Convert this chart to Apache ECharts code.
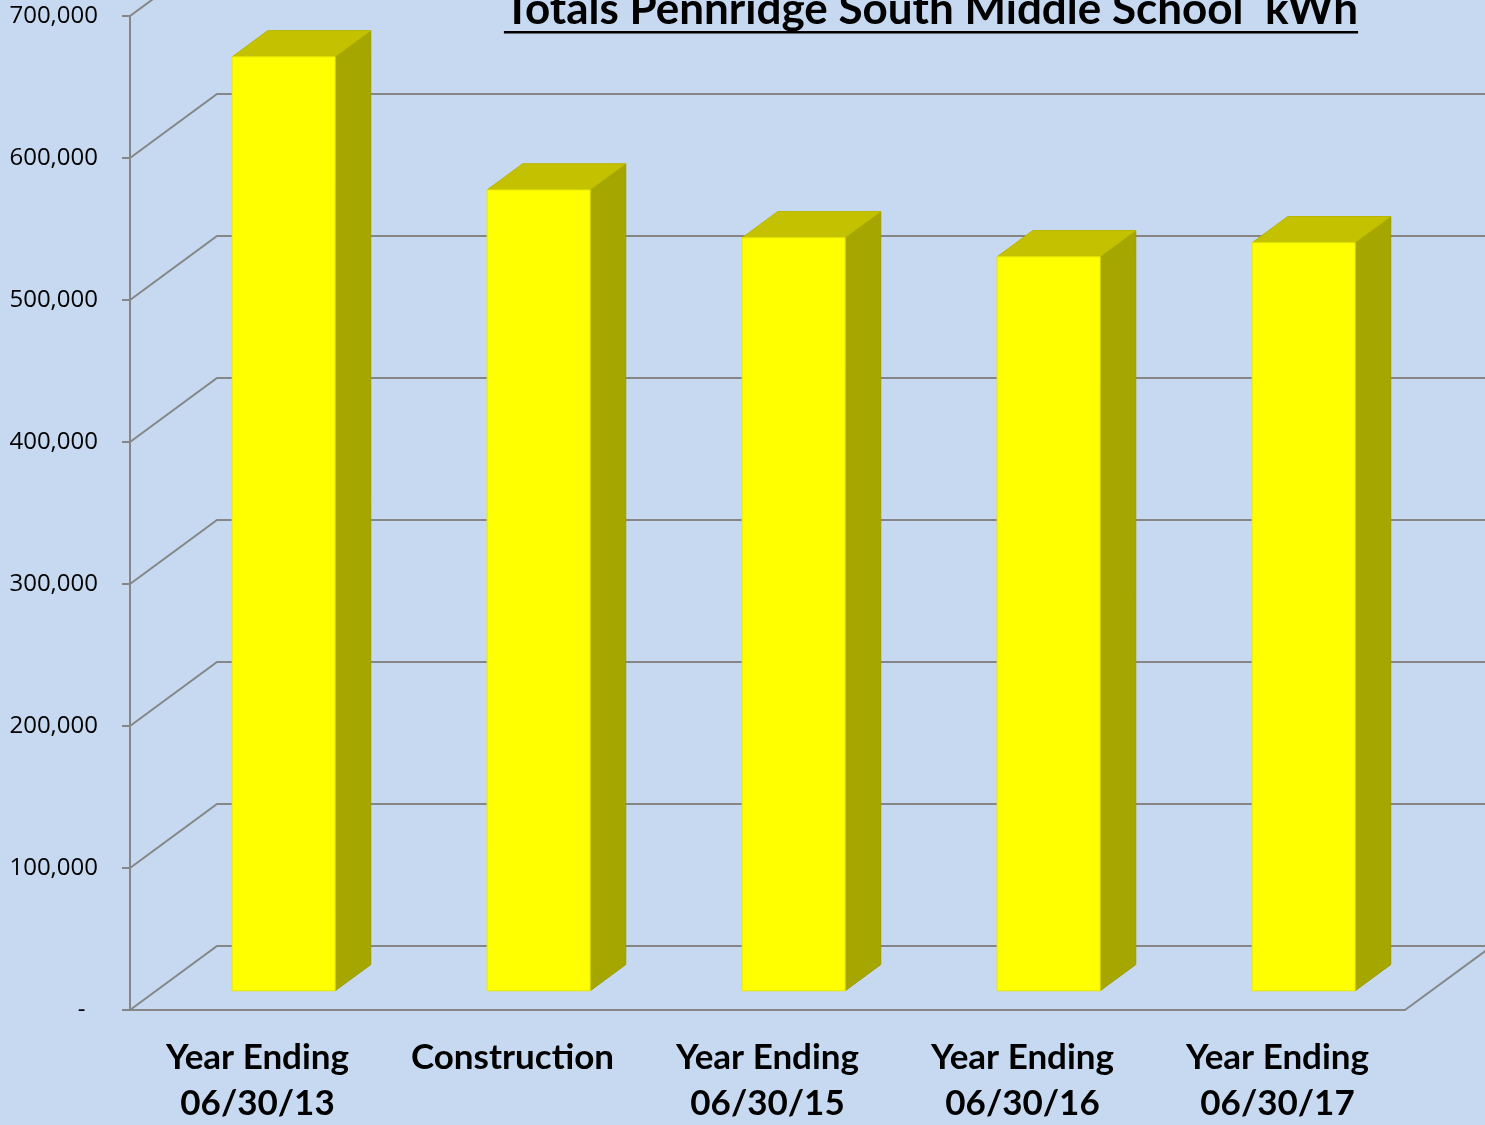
<!DOCTYPE html>
<html>
<head>
<meta charset="utf-8">
<script src="https://cdn.jsdelivr.net/npm/echarts@6/dist/echarts.min.js"></script>
<style>
  html, body { margin: 0; padding: 0; background: #c6d9f0; }
  #chart { width: 1485px; height: 1125px; }
</style>
</head>
<body>
<div id="chart"></div>
<script>
var categories = ['Year Ending\n06/30/13', 'Construction', 'Year Ending\n06/30/15', 'Year Ending\n06/30/16', 'Year Ending\n06/30/17'];
var kwhValues = [657700, 564000, 530300, 516900, 526800];
var yTicks = [0, 100000, 200000, 300000, 400000, 500000, 600000, 700000];
var titleText = 'Totals Pennridge South Middle School  kWh';

// 3d look: depth offset of the back wall
var DX = 87, DY = 64;
var FRONT = 0.3, BACK = 0.71;
var gridColor = '#868686';

var myChart = echarts.init(document.getElementById('chart'));

// measure title for the underline
var cv = document.createElement('canvas').getContext('2d');
var titleFont = 'bold 44px Lato';
cv.font = titleFont;
var titleW = cv.measureText(titleText).width;
var titleCx = 931;

myChart.setOption({
  backgroundColor: '#c6d9f0',
  animation: false,
  grid: { left: 130, right: 80, top: 16, bottom: 115, outerBoundsMode: 'none', containLabel: false },
  graphic: [
    {
      type: 'text', left: titleCx - titleW / 2, top: -12,
      style: { text: titleText, font: titleFont, fill: '#000' }
    },
    {
      type: 'rect', shape: { x: titleCx - titleW / 2, y: 31, width: titleW, height: 2.5 },
      style: { fill: '#000' }
    }
  ],
  xAxis: {
    type: 'category',
    data: categories,
    axisLine: { lineStyle: { color: gridColor, width: 2 } },
    axisTick: { length: 12, lineStyle: { color: gridColor, width: 2 } },
    axisLabel: {
      interval: 0,
      color: '#000', fontFamily: 'Lato', fontWeight: 'bold', fontSize: 35,
      lineHeight: 46, margin: 25
    }
  },
  yAxis: {
    type: 'value', min: 0, max: 700000, interval: 100000,
    axisLine: { show: true, lineStyle: { color: gridColor, width: 2 } },
    axisTick: { show: true, length: 8, lineStyle: { color: gridColor, width: 2 } },
    splitLine: { show: false },
    axisLabel: {
      color: '#000', fontFamily: 'Open Sans', fontSize: 24, margin: 32,
      formatter: function (v) {
        if (v === 0) return '-  ';
        return v.toLocaleString('en-US');
      }
    }
  },
  series: [
    {
      type: 'custom',
      silent: true,
      clip: false,
      z: 1,
      data: yTicks.map(function (v) { return [0, v]; }),
      renderItem: function (params, api) {
        var cs = params.coordSys;
        var v = api.value(1);
        var y = api.coord([0, v])[1];
        var children = [{
          type: 'polyline',
          shape: { points: [[cs.x, y], [cs.x + DX, y - DY], [cs.x + cs.width + DX, y - DY]] },
          style: { stroke: gridColor, lineWidth: 2, fill: null }
        }];
        if (v === 0) {
          children.push({
            type: 'line',
            shape: { x1: cs.x + cs.width, y1: y, x2: cs.x + cs.width + DX, y2: y - DY },
            style: { stroke: gridColor, lineWidth: 2 }
          });
        }
        return { type: 'group', children: children };
      }
    },
    {
      type: 'custom',
      z: 2,
      clip: false,
      data: kwhValues.map(function (v, i) { return [i, v]; }),
      renderItem: function (params, api) {
        var i = api.value(0);
        var base = api.coord([i, 0]);
        var top = api.coord([i, api.value(1)]);
        var bw = api.size([1, 0])[0] * 0.404;
        var cx = base[0] + FRONT * DX;
        var x0 = cx - bw / 2, x1 = cx + bw / 2;
        var yT = top[1] - FRONT * DY, yB = base[1] - FRONT * DY;
        var ddx = (BACK - FRONT) * DX, ddy = (BACK - FRONT) * DY;
        return {
          type: 'group',
          children: [
            {
              type: 'polygon',
              shape: { points: [[x1, yT], [x1 + ddx, yT - ddy], [x1 + ddx, yB - ddy], [x1, yB]] },
              style: { fill: '#a6a600', stroke: '#9c9c00', lineWidth: 1 }
            },
            {
              type: 'polygon',
              shape: { points: [[x0, yT], [x1, yT], [x1 + ddx, yT - ddy], [x0 + ddx, yT - ddy]] },
              style: { fill: '#c4c200', stroke: '#b8b600', lineWidth: 1 }
            },
            {
              type: 'rect',
              shape: { x: x0, y: yT, width: bw, height: yB - yT },
              style: { fill: '#ffff00', stroke: '#e8e800', lineWidth: 1 }
            }
          ]
        };
      }
    }
  ]
});
</script>
</body>
</html>
